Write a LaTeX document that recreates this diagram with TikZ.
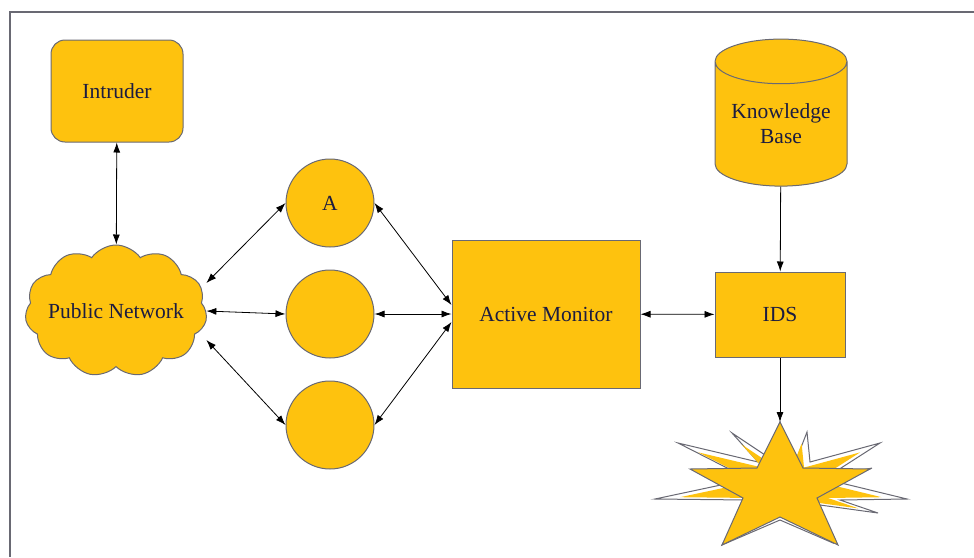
\documentclass[tikz,border=0pt]{standalone}
\usepackage{fontspec}
\setmainfont{Liberation Serif}
\newfontfamily\diagfont{Liberation Serif}
\usetikzlibrary{positioning, shapes.symbols, shapes.geometric, arrows.meta}
\definecolor{boxyellow}{RGB}{254,194,14}
\definecolor{boxline}{RGB}{105,105,115}
\definecolor{labelblue}{RGB}{28,28,64}
\tikzset{
	labelfont/.style={text=labelblue, font=\diagfont\fontsize{21.5}{25}\selectfont, align=center},
	block/.style={draw=boxline, fill=boxyellow, line width=1pt, labelfont, inner sep=0pt},
	link/.style={{Latex[length=10pt,width=7pt]}-{Latex[length=10pt,width=7pt]}, line width=0.8pt},
	feed/.style={-{Latex[length=10pt,width=7pt]}, line width=0.8pt}
}

\begin{document}
\begin{tikzpicture}[x=1pt,y=-1pt]
					\useasboundingbox (0,0) rectangle (974,557);
					\draw[line width=1.5pt, boxline] (974,12) -- (10,12) -- (10,557);
					\node[block, rounded corners=14pt, minimum width=132pt, minimum height=102pt] (intr) at (117,91) {Intruder};
					\node[block, cloud, cloud puffs=11, cloud puff arc=110, minimum width=182pt, minimum height=132pt,
						label={[labelfont]center:Public Network}] (net) at (116,311) {};
					\foreach \name/\y/\txt in {cA/203/A, cB/314/, cC/425/}
					{
						\node[block, circle, minimum size=88pt] (\name) at (330,\y) {\txt};
					}
					\node[block, minimum width=188pt, minimum height=148pt] (mon) at (546,314) {Active Monitor};
					\node[block, minimum width=130pt, minimum height=85pt] (ids) at (780,314.5) {IDS};
					\node[block, cylinder, shape border rotate=90, aspect=0.45, minimum width=132pt, minimum height=147pt,
						cylinder uses custom fill, cylinder body fill=boxyellow, cylinder end fill=white] (kb) at (781,124) {Knowledge\\Base};
					% explosion: spiky outline, yellow core, star on top
					\coordinate (boom) at (780,422);
					\foreach \sc/\col/\ln in {1/white/boxline, 0.8/boxyellow/none}
					{
						\path[fill=\col, draw=\ln, line width=1pt, shift={(780,490)}, scale=\sc, shift={(-780,-490)}]
							(780,422) -- (795,463) -- (807,432) -- (810,462) -- (880,443)
							-- (827,477) -- (872,468) -- (837,482) -- (907,499) -- (840,500) -- (878,513) -- (820,505)
							-- (833,543) -- (780,520) -- (722,545) -- (747,500) -- (655,499) -- (735,482) -- (702,470)
							-- (737,473) -- (678,443) -- (758,462) -- (732,433) -- (765,455) -- cycle;
					}
					\draw[draw=boxline, fill=boxyellow, line width=1pt] (boom) -- (803,468) -- (870,469) -- (817,498) -- (838,545)
						-- (780,517) -- (722,545) -- (743,498) -- (690,469) -- (757,468) -- cycle;
					% connectors
					\draw[link] (intr) -- (net);
					\draw[link] ([yshift=28pt]net.east) -- (cA.west);
					\draw[link] (net.east) -- (cB.west);
					\draw[link] ([yshift=-29pt]net.east) -- (cC.west);
					\foreach \name/\s in {cA/9, cB/0, cC/-8}
					{
						\draw[link] (\name.east) -- ([yshift=\s pt]mon.west);
					}
					\draw[link] (mon) -- (ids);
					\draw[feed] (kb) -- (ids);
					\draw[feed] (ids) -- (boom);
				\end{tikzpicture}
\end{document}
